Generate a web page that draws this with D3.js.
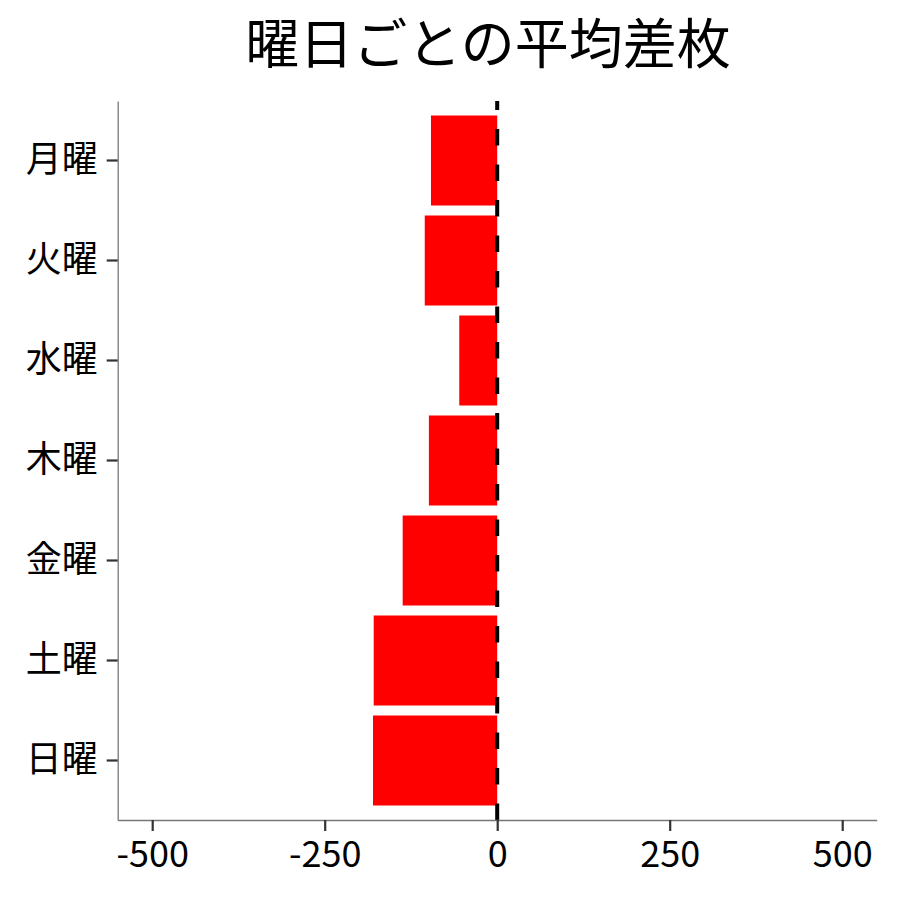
<!DOCTYPE html>
<html lang="ja">

<head>
    <meta charset="UTF-8">
    <title>曜日ごとの平均差枚</title>
    <script src="https://cdnjs.cloudflare.com/ajax/libs/d3/7.8.5/d3.min.js"></script>
    <style>
        * {
            margin: 0;
            padding: 0;
        }

        body {
            background: #fff;
            font-family: "Noto Sans CJK JP", "Noto Sans", sans-serif;
        }
    </style>
</head>

<body>
    <svg id="chart" width="900" height="900"></svg>

    <script>
        // データ
        const days = ["月曜", "火曜", "水曜", "木曜", "金曜", "土曜", "日曜"];
        const diffs = [-96, -105, -55, -99, -137, -179, -180];
        const xTicks = [-500, -250, 0, 250, 500];
        const title = "曜日ごとの平均差枚";

        const svg = d3.select("#chart");
        const font = '"Noto Sans CJK JP", sans-serif';

        const x = d3.scaleLinear().domain([-550, 550]).range([117.7, 876.7]);
        const y = d3.scaleBand()
            .domain(days)
            .range([101, 820])
            .paddingInner(0.1)
            .paddingOuter(0.145);

        // 棒
        svg.append("g")
            .selectAll("rect")
            .data(days.map((d, i) => ({ day: d, value: diffs[i] })))
            .join("rect")
            .attr("x", d => x(Math.min(0, d.value)))
            .attr("y", d => y(d.day))
            .attr("width", d => Math.abs(x(d.value) - x(0)))
            .attr("height", y.bandwidth())
            .attr("fill", "#ff0000");

        // 0 の点線
        svg.append("line")
            .attr("x1", x(0))
            .attr("x2", x(0))
            .attr("y1", 820)
            .attr("y2", 101)
            .attr("stroke", "#000")
            .attr("stroke-width", 4)
            .attr("stroke-dasharray", "16.5,19");

        // 軸
        const yAxis = svg.append("g")
            .attr("transform", `translate(${x.range()[0]},0)`)
            .call(d3.axisLeft(y).tickSize(11).tickSizeOuter(0).tickPadding(9));

        const xAxis = svg.append("g")
            .attr("transform", "translate(0,820)")
            .call(d3.axisBottom(x).tickValues(xTicks).tickFormat(d3.format("d")).tickSize(11).tickSizeOuter(0).tickPadding(10));

        [yAxis, xAxis].forEach(g => {
            g.select(".domain").attr("stroke", "#777").attr("stroke-width", 1.3);
            g.selectAll(".tick line").attr("stroke", "#333").attr("stroke-width", 2.2);
            g.selectAll(".tick text")
                .attr("fill", "#000")
                .style("font-family", font)
                .style("font-size", "36px");
        });
        xAxis.selectAll(".tick text").text(d => d < 0 ? "-" + Math.abs(d) : d);

        // タイトル
        svg.append("text")
            .attr("x", 488)
            .attr("y", 64)
            .attr("text-anchor", "middle")
            .style("font-family", font)
            .style("font-size", "54px")
            .attr("fill", "#000")
            .text(title);
    </script>
</body>

</html>
